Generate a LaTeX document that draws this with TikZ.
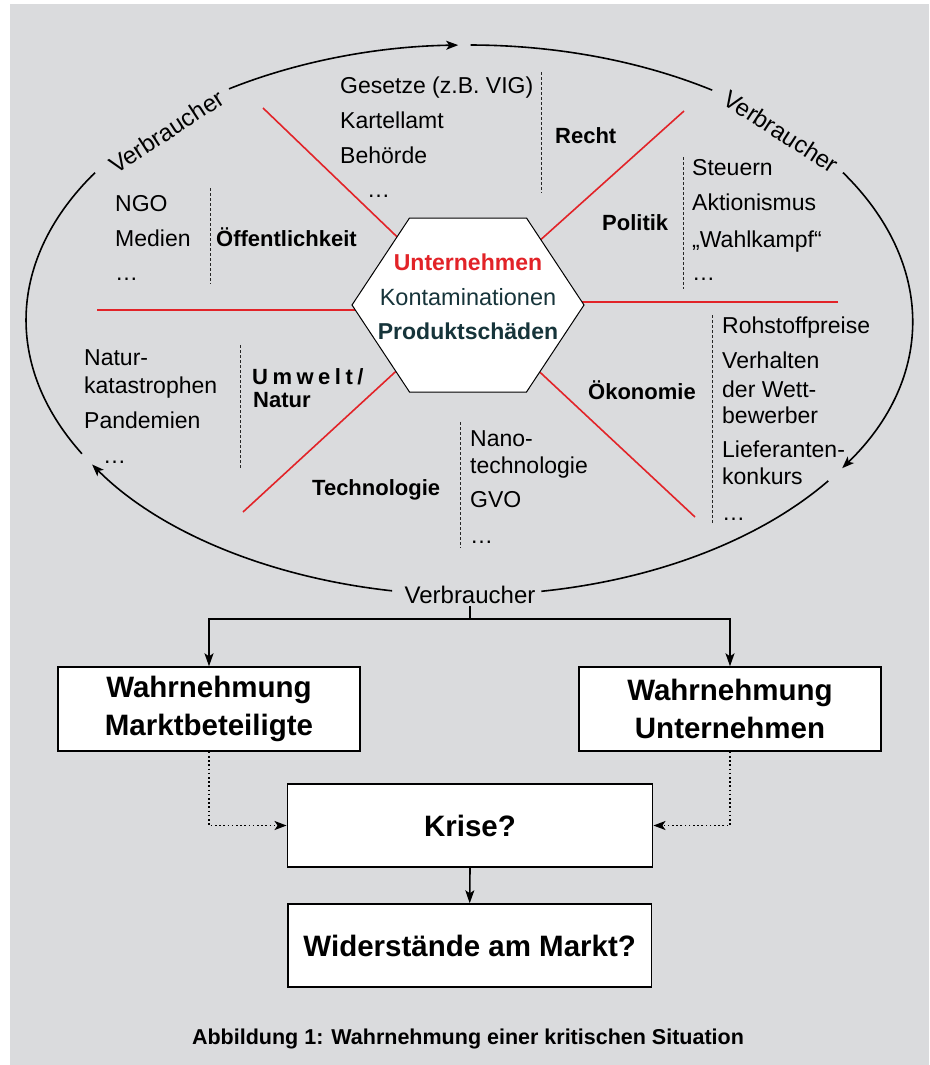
\documentclass[tikz,border=0pt]{standalone}
\usepackage{fontspec}
\setmainfont{Liberation Sans}
\usetikzlibrary{arrows.meta,calc}
\definecolor{bg}{RGB}{218,219,221}
\definecolor{rd}{RGB}{226,35,40}
\definecolor{tl}{RGB}{22,52,58}
\begin{document}
\begin{tikzpicture}[x=1pt,y=1pt,
  txt/.style={anchor=base west, inner sep=0pt, font=\fontsize{23}{27}\selectfont},
  lbl/.style={anchor=base west, inner sep=0pt, font=\fontsize{22}{26}\selectfont\bfseries},
  vlab/.style={inner sep=0pt, font=\fontsize{24}{28}\selectfont},
  dsh/.style={line width=0.9pt, dash pattern=on 3pt off 2pt, black!85},
  spoke/.style={rd, line width=1.6pt},
  ell/.style={line width=1.6pt},
  tipA/.style={-{Stealth[length=12pt,width=9pt,inset=3pt]}},
  box/.style={draw, line width=1.4pt, fill=white, align=center, inner sep=0pt,
    font=\fontsize{29.5}{38.5}\selectfont\bfseries},
  conn/.style={line width=1.6pt},
  arr/.style={line width=1.6pt, -{Stealth[length=13pt,width=9pt,inset=3pt]}},
  dot/.style={line width=1.6pt, dash pattern=on 1.6pt off 2.6pt, -{Stealth[length=12pt,width=9pt,inset=3pt]}},
]
\useasboundingbox (0,0) rectangle (929,-1065);
\fill[bg] (10,-4) rectangle (929,-1065);

% ---------- ellipse (Verbraucher cycle) ----------
\coordinate (E) at (469,-320);
\draw[ell,tipA] ($(E)+(122.8:443pt and 275pt)$) arc[start angle=122.8, end angle=91.4, x radius=443pt, y radius=275pt];
\draw[ell] ($(E)+(89.8:443pt and 275pt)$) arc[start angle=89.8, end angle=56.7, x radius=443pt, y radius=275pt];
\draw[ell,tipA] ($(E)+(32.4:443pt and 275pt)$) arc[start angle=32.4, end angle=-32.6, x radius=443pt, y radius=275pt];
\draw[ell] ($(E)+(-35.8:443pt and 275pt)$) arc[start angle=-35.8, end angle=-80.6, x radius=443pt, y radius=275pt];
\draw[ell,tipA] ($(E)+(-100:443pt and 275pt)$) arc[start angle=-100, end angle=-148.3, x radius=443pt, y radius=275pt];
\draw[ell] ($(E)+(209.1:443pt and 275pt)$) arc[start angle=209.1, end angle=147.6, x radius=443pt, y radius=275pt];

\node[vlab, rotate=33] (vl) at (166.5,-131.5) {Verbraucher};
\node[vlab, rotate=-33] (vr) at (781,-131.5) {Verbraucher};
\node[vlab, inner sep=2pt] (vb) at (470,-595) {Verbraucher};

% ---------- red spokes ----------
\coordinate (hc) at (468,-305);
\coordinate (sUL) at (263,-108);
\coordinate (sUR) at (684,-111);
\coordinate (sLL) at (243,-512);
\coordinate (sLR) at (695,-517);
\coordinate (sL) at (97,-310);
\coordinate (sLi) at (440,-310);
\coordinate (sR) at (838,-302);
\coordinate (sRi) at (500,-302);
\draw[spoke] (sUL) -- (hc);
\draw[spoke] (sUR) -- (hc);
\draw[spoke] (sLL) -- (hc);
\draw[spoke] (sLR) -- (hc);
\draw[spoke] (sL) -- (sLi);
\draw[spoke] (sR) -- (sRi);

% ---------- hexagon ----------
\draw[fill=white, line width=1pt] ($(hc)+(-58.5,87)$) -- ($(hc)+(58.5,87)$) -- ($(hc)+(116,0)$)
  -- ($(hc)+(58.5,-87)$) -- ($(hc)+(-58.5,-87)$) -- ($(hc)+(-116,0)$) -- cycle;
\node[anchor=base, inner sep=0pt, font=\fontsize{23}{27}\selectfont\bfseries, text=rd] (h1) at (468,-270) {Unternehmen};
\node[anchor=base, inner sep=0pt, font=\fontsize{23.5}{27}\selectfont, text=tl] (h2) at (468,-305) {Kontaminationen};
\node[anchor=base, inner sep=0pt, font=\fontsize{23}{27}\selectfont\bfseries, text=tl] (h3) at (468,-339.5) {Produktschäden};

% ---------- Recht ----------
\node[txt] (r1) at (340,-93) {Gesetze (z.B. VIG)};
\node[txt] (r2) at (340,-128) {Kartellamt};
\node[txt] (r3) at (340,-163) {Behörde};
\node[txt] (r4) at (367,-197) {…};
\draw[dsh] (541,-72) -- (541,-193);
\node[lbl] (recht) at (555,-143) {Recht};

% ---------- Oeffentlichkeit ----------
\node[txt] (o1) at (115,-211) {NGO};
\node[txt] (o2) at (115,-246) {Medien};
\node[txt] (o3) at (115,-280) {…};
\draw[dsh] (210,-188) -- (210,-284);
\node[lbl] (oeff) at (216,-246) {Öffentlichkeit};

% ---------- Politik ----------
\node[lbl] (pol) at (602,-230) {Politik};
\draw[dsh] (683,-157) -- (683,-289);
\node[txt] (p1) at (692,-175) {Steuern};
\node[txt] (p2) at (692,-210) {Aktionismus};
\node[txt] (p3) at (692,-247) {„Wahlkampf“};
\node[txt] (p4) at (692,-280) {…};

% ---------- Oekonomie ----------
\node[lbl] (oek) at (588,-399) {Ökonomie};
\draw[dsh] (712,-315) -- (712,-524);
\node[txt] (e1) at (722,-333) {Rohstoffpreise};
\node[txt] (e2) at (722,-368) {Verhalten};
\node[txt] (e3) at (722,-397) {der Wett-};
\node[txt] (e4) at (722,-423) {bewerber};
\node[txt] (e5) at (722,-457) {Lieferanten-};
\node[txt] (e6) at (722,-484) {konkurs};
\node[txt] (e7) at (722,-520) {…};

% ---------- Technologie ----------
\node[lbl] (tech) at (312,-495) {Technologie};
\draw[dsh] (460,-422) -- (460,-548);
\node[txt] (t1) at (470,-446) {Nano-};
\node[txt] (t2) at (470,-473) {technologie};
\node[txt] (t3) at (470,-507) {GVO};
\node[txt] (t4) at (470,-543) {…};

% ---------- Umwelt / Natur ----------
\node[lbl] (um1) at (252,-384) {{U}\kern4.5pt{m}\kern4.5pt{w}\kern4.5pt{e}\kern4.5pt{l}\kern4.5pt{t}\kern4.5pt{/}};
\node[lbl] (um2) at (253,-407) {Natur};
\draw[dsh] (240,-345) -- (240,-468);
\node[txt] (n1) at (84,-365) {Natur-};
\node[txt] (n2) at (84,-393) {katastrophen};
\node[txt] (n3) at (84,-428) {Pandemien};
\node[txt] (n4) at (103,-463) {…};

% ---------- lower flow ----------
\node[box, minimum width=302pt, minimum height=84pt] (mb) at (209,-709) {Wahrnehmung\\Marktbeteiligte};
\node[box, minimum width=302pt, minimum height=84pt] (mu) at (730,-709) {Wahrnehmung\\Unternehmen};
\node[box, minimum width=365.5pt, minimum height=83pt] (kr) at (470,-825.5) {Krise?};
\node[box, minimum width=363.5pt, minimum height=83pt] (wi) at (469.7,-945.5) {Widerstände am Markt?};

\coordinate (j) at (470,-619);
\draw[conn] (vb.south) -- (j);
\draw[arr] (j) -| (mb.north);
\draw[arr] (j) -| (mu.north);
\draw[dot] (mb.south) |- (kr.west);
\draw[dot] (mu.south) |- (kr.east);
\draw[arr] (kr.south) -- (wi.north);

\node[inner sep=0pt, font=\fontsize{21.5}{25}\selectfont\bfseries] (cap) at (468,-1039) {Abbildung 1: Wahrnehmung einer kritischen Situation};
\end{tikzpicture}
\end{document}
